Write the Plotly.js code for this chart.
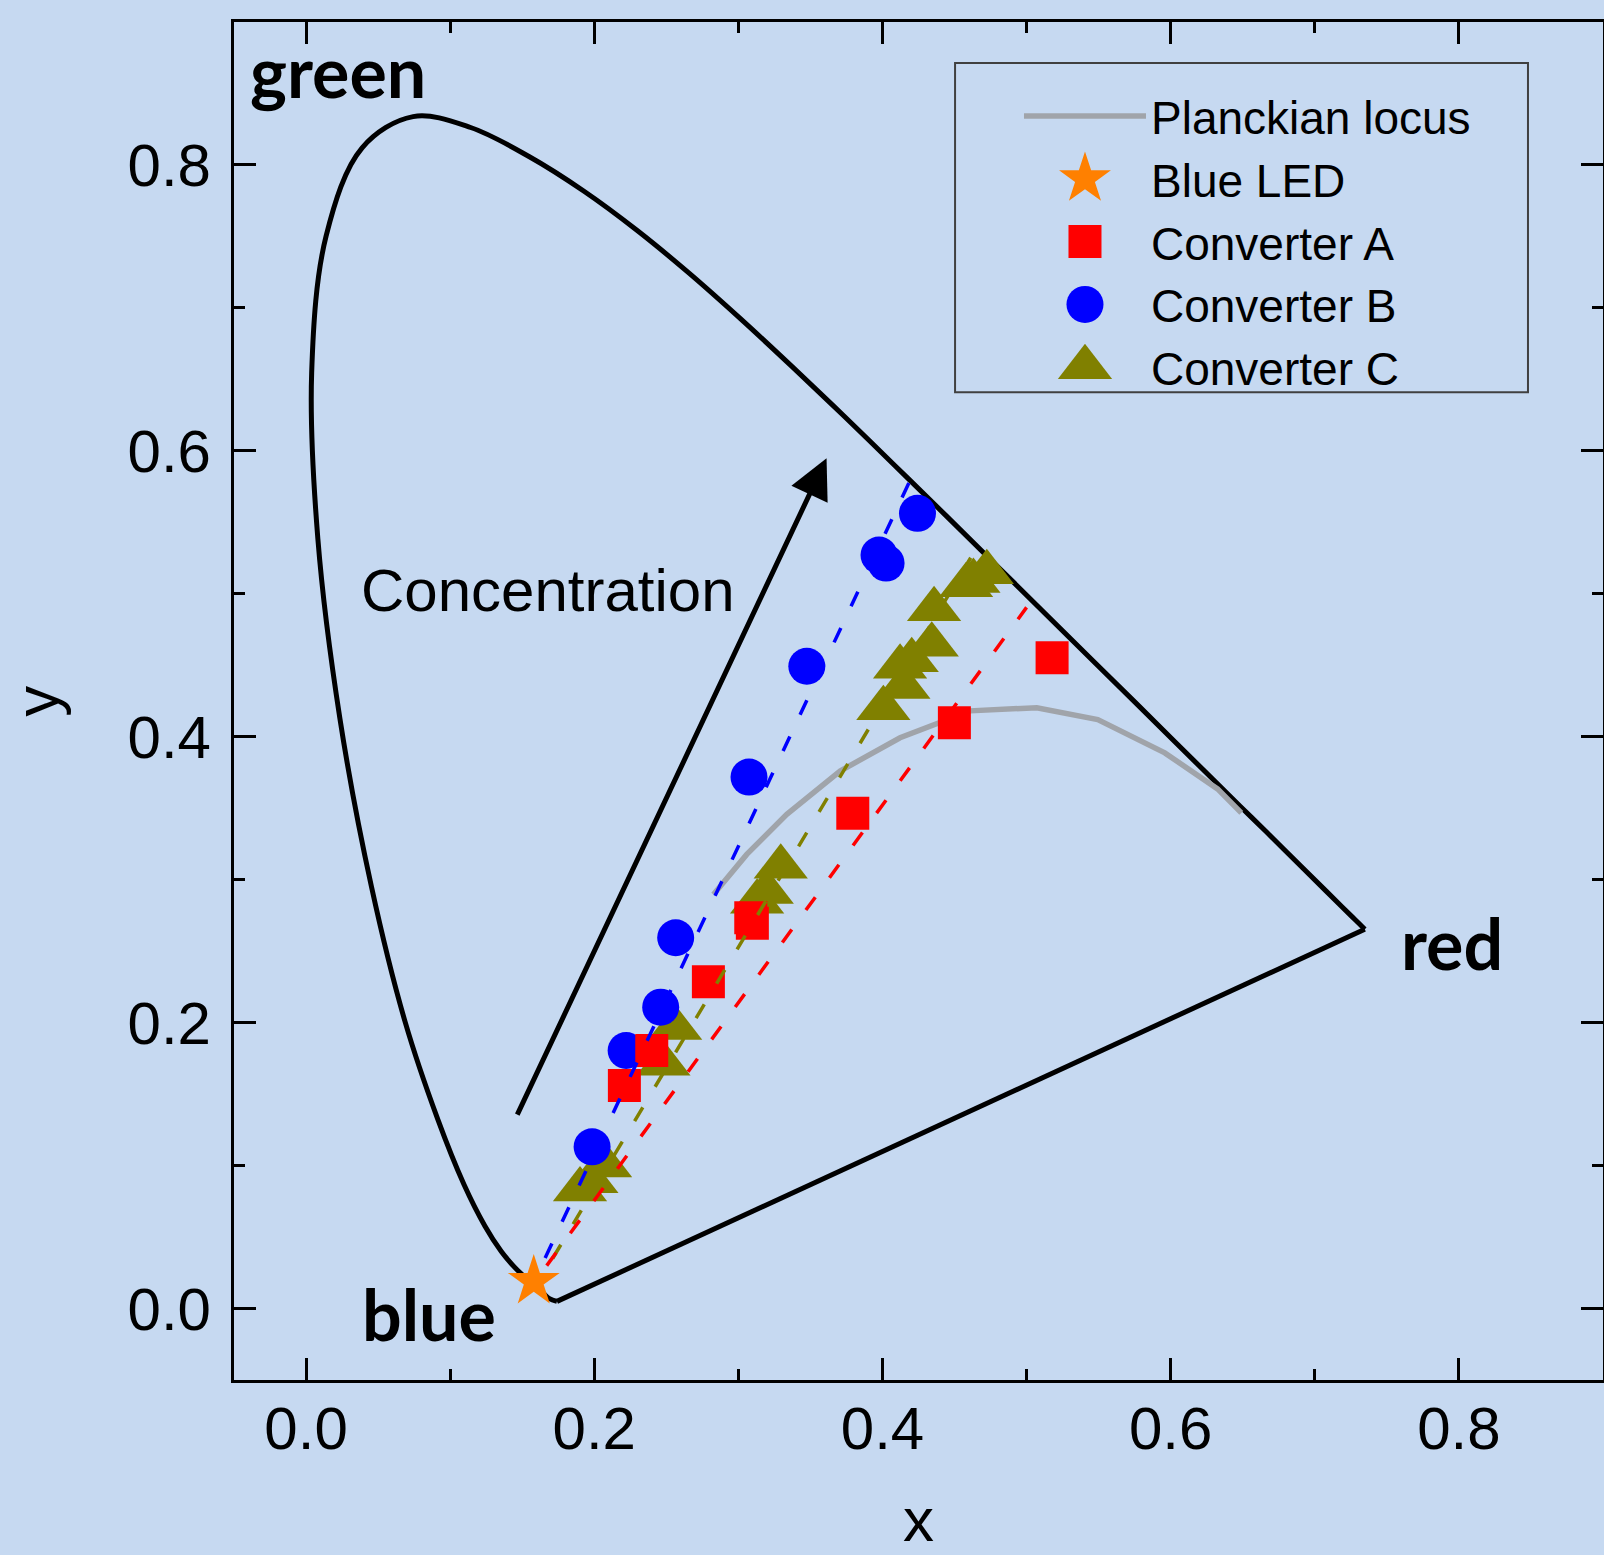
<!DOCTYPE html>
<html>
<head>
<meta charset="utf-8">
<script src="https://cdn.plot.ly/plotly-3.0.1.min.js"></script>
<style>
html, body { margin: 0; padding: 0; background: #C6D9F1; }
#chart { width: 1604px; height: 1555px; }
</style>
</head>
<body>
<div id="chart"></div>
<script>
// ---------- data ----------
// spectral locus (horseshoe), blue end -> green -> red end
const locusX = [0.1741, 0.1689, 0.1644, 0.1566, 0.1510, 0.1440, 0.1355, 0.1241, 0.1096, 0.0913, 0.0687, 0.0454, 0.0235, 0.0082, 0.0039, 0.0139, 0.0389, 0.0743, 0.1142, 0.1547, 0.1929, 0.2296, 0.2658, 0.3016, 0.3373, 0.3731, 0.4087, 0.4441, 0.4788, 0.5125, 0.5448, 0.5752, 0.6029, 0.6270, 0.6482, 0.6658, 0.6915, 0.7079, 0.7190, 0.7260, 0.7300, 0.7347];
const locusY = [0.0050, 0.0069, 0.0109, 0.0177, 0.0227, 0.0297, 0.0399, 0.0578, 0.0868, 0.1327, 0.2007, 0.2950, 0.4127, 0.5384, 0.6548, 0.7502, 0.8120, 0.8338, 0.8262, 0.8059, 0.7816, 0.7543, 0.7243, 0.6923, 0.6589, 0.6245, 0.5896, 0.5547, 0.5202, 0.4866, 0.4544, 0.4242, 0.3965, 0.3725, 0.3514, 0.3340, 0.3083, 0.2920, 0.2809, 0.2740, 0.2700, 0.2653];

// Planckian locus
const planckX = [0.2827, 0.3058, 0.3336, 0.3706, 0.4122, 0.4608, 0.5071, 0.5494, 0.5959, 0.6325, 0.6490];
const planckY = [0.2897, 0.3177, 0.3457, 0.3760, 0.3993, 0.4181, 0.4203, 0.4120, 0.3887, 0.3635, 0.3467];

// Blue LED
const ledX = [0.158];
const ledY = [0.019];

// Converter A (red squares)
const convAX = [0.2209, 0.2399, 0.2792, 0.3086, 0.3097, 0.3794, 0.4499, 0.5177];
const convAY = [0.1560, 0.1805, 0.2286, 0.2733, 0.2696, 0.3464, 0.4098, 0.4553];

// Converter B (blue circles)
const convBX = [0.1985, 0.2221, 0.2461, 0.2565, 0.3074, 0.3475, 0.3976, 0.4025, 0.4243];
const convBY = [0.1131, 0.1805, 0.2108, 0.2594, 0.3718, 0.4493, 0.5271, 0.5215, 0.5563];

// Converter C (olive triangles)
const convCX = [0.1901, 0.1980, 0.2075, 0.2480, 0.2561, 0.3130, 0.3197, 0.3294, 0.4006, 0.4145, 0.4122, 0.4203, 0.4342, 0.4358, 0.4580, 0.4631, 0.4724];
const convCY = [0.0833, 0.0890, 0.1000, 0.1712, 0.1962, 0.2845, 0.2913, 0.3090, 0.4199, 0.4348, 0.4490, 0.4535, 0.4644, 0.4892, 0.5060, 0.5090, 0.5150];

// dashed guide lines
const lineAX = [0.1670, 0.5000];
const lineAY = [0.0300, 0.4905];
const lineBX = [0.1659, 0.4194];
const lineBY = [0.0354, 0.5798];
const lineCX = [0.1711, 0.4620];
const lineCY = [0.0350, 0.5265];

// concentration arrow (tail -> head)
const arrowX = [0.1461, 0.3612];
const arrowY = [0.1346, 0.5949];

const tickVals = [0, 0.2, 0.4, 0.6, 0.8];
const tickText = ['0.0', '0.2', '0.4', '0.6', '0.8'];
const xTitle = 'x';
const yTitle = 'y';

// ---------- styles ----------
const BG = '#C6D9F1';
const FONT = 'Liberation Sans, Arial, sans-serif';
const BOLDFONT = 'Lato, Open Sans, sans-serif';
const SIZE_STAR = 39, SIZE_SQ = 33, SIZE_CIRC = 37, SIZE_TRI = 47;
const DASH = '16px,24px';

const traces = [
  { x: locusX, y: locusY, type: 'scatter', mode: 'lines', showlegend: false,
    line: { color: '#000000', width: 5, shape: 'spline', smoothing: 1, simplify: false }, hoverinfo: 'skip' },
  { x: [locusX[locusX.length - 1], locusX[0]], y: [locusY[locusY.length - 1], locusY[0]],
    type: 'scatter', mode: 'lines', showlegend: false,
    line: { color: '#000000', width: 5 }, hoverinfo: 'skip' },
  { x: planckX, y: planckY, type: 'scatter', mode: 'lines', name: 'Planckian locus', legendrank: 1,
    line: { color: 'rgb(160,164,170)', width: 5.5 } },
  { x: convCX, y: convCY, type: 'scatter', mode: 'markers', name: 'Converter C', legendrank: 5,
    marker: { symbol: 'triangle-up', size: SIZE_TRI, color: '#808000', line: { width: 0 } } },
  { x: convBX, y: convBY, type: 'scatter', mode: 'markers', name: 'Converter B', legendrank: 4,
    marker: { symbol: 'circle', size: SIZE_CIRC, color: '#0000FF', line: { width: 0 } } },
  { x: convAX, y: convAY, type: 'scatter', mode: 'markers', name: 'Converter A', legendrank: 3,
    marker: { symbol: 'square', size: SIZE_SQ, color: '#FF0000', line: { width: 0 } } },
  { x: lineBX, y: lineBY, type: 'scatter', mode: 'lines', showlegend: false,
    line: { color: '#0000FF', width: 3.5, dash: DASH } },
  { x: lineCX, y: lineCY, type: 'scatter', mode: 'lines', showlegend: false,
    line: { color: '#808000', width: 3.5, dash: DASH } },
  { x: lineAX, y: lineAY, type: 'scatter', mode: 'lines', showlegend: false,
    line: { color: '#FF0000', width: 3.5, dash: DASH } },
  { x: ledX, y: ledY, type: 'scatter', mode: 'markers', name: 'Blue LED', legendrank: 2,
    marker: { symbol: 'star', size: SIZE_STAR, color: '#FF8000', line: { width: 0 } } }
];

const axisCommon = {
  range: [-0.05, 0.9],
  tickvals: tickVals, ticktext: tickText,
  ticks: 'inside', ticklen: 22, tickwidth: 3, tickcolor: '#000000',
  minor: { dtick: 0.1, tick0: 0, ticks: 'inside', ticklen: 11, tickwidth: 3, tickcolor: '#000000' },
  showline: true, linewidth: 3, linecolor: '#000000', mirror: 'ticks',
  showgrid: false, zeroline: false,
  tickfont: { family: FONT, size: 60, color: '#000000' },
  fixedrange: true
};

const layout = {
  width: 1604, height: 1555,
  margin: { l: 234, r: 1, t: 22, b: 175 },
  paper_bgcolor: BG, plot_bgcolor: BG,
  font: { family: FONT, color: '#000000' },
  showlegend: true,
  legend: {
    x: 0.5734, y: 0.9576, xanchor: 'left', yanchor: 'top',
    bgcolor: 'rgba(0,0,0,0)', borderwidth: 0,
    itemwidth: 122,
    font: { family: FONT, size: 46, color: '#000000' }
  },
  xaxis: Object.assign({}, axisCommon, { ticklabelstandoff: -6 }),
  yaxis: Object.assign({}, axisCommon, { ticklabelstandoff: 8 }),
  shapes: [
    { type: 'rect', xref: 'paper', yref: 'paper', x0: 0.5267, x1: 0.9452, y0: 0.7273, y1: 0.9698,
      line: { color: '#404040', width: 2 }, fillcolor: 'rgba(0,0,0,0)', layer: 'above' }
  ],
  annotations: [
    // axis titles
    { x: 0.5, y: -0.1028, xref: 'paper', yref: 'paper', text: xTitle, showarrow: false,
      xanchor: 'center', yanchor: 'middle', font: { family: FONT, size: 62, color: '#000000' } },
    { x: -0.1449, y: 0.5, xref: 'paper', yref: 'paper', text: yTitle, showarrow: false, textangle: -90,
      xanchor: 'center', yanchor: 'middle', font: { family: FONT, size: 62, color: '#000000' } },
    // concentration arrow and label
    { x: arrowX[1], y: arrowY[1], ax: arrowX[0], ay: arrowY[0], xref: 'x', yref: 'y', axref: 'x', ayref: 'y',
      text: '', showarrow: true, arrowhead: 2, arrowsize: 1.6, arrowwidth: 5, arrowcolor: '#000000', standoff: 0 },
    { x: 0.1679, y: 0.502, xref: 'x', yref: 'y', text: 'Concentration', showarrow: false,
      xanchor: 'center', yanchor: 'middle', font: { family: FONT, size: 60, color: '#000000' } },
    // corner labels
    { x: -0.0405, y: 0.8654, xref: 'x', yref: 'y', text: 'green', showarrow: false,
      xanchor: 'left', yanchor: 'middle', font: { family: BOLDFONT, size: 70, color: '#000000', weight: 700 } },
    { x: 0.0375, y: -0.0035, xref: 'x', yref: 'y', text: 'blue', showarrow: false,
      xanchor: 'left', yanchor: 'middle', font: { family: BOLDFONT, size: 70, color: '#000000', weight: 700 } },
    { x: 0.7585, y: 0.2558, xref: 'x', yref: 'y', text: 'red', showarrow: false,
      xanchor: 'left', yanchor: 'middle', font: { family: BOLDFONT, size: 70, color: '#000000', weight: 700 } }
  ],
  hovermode: false
};

// legend keys in the reference are drawn at the same size as the plot markers;
// Plotly caps legend marker size at 16 px, so scale the legend symbols up.
const legendKeySize = { 'Blue LED': SIZE_STAR, 'Converter A': SIZE_SQ, 'Converter B': SIZE_CIRC, 'Converter C': SIZE_TRI };
function enlargeLegendKeys(gd) {
  gd.querySelectorAll('.legend .traces').forEach(function (g) {
    const t = g.querySelector('.legendtext');
    if (!t) return;
    const s = legendKeySize[t.textContent];
    if (!s) return;
    g.querySelectorAll('.legendpoints path.scatterpts').forEach(function (p) {
      let base = p.getAttribute('data-base-transform');
      if (base === null) { base = p.getAttribute('transform') || ''; p.setAttribute('data-base-transform', base); }
      p.setAttribute('transform', base + ' scale(' + (s / 16) + ')');
    });
  });
}

const gd = document.getElementById('chart');
Plotly.newPlot(gd, traces, layout, { displayModeBar: false, staticPlot: true }).then(function () {
  enlargeLegendKeys(gd);
  gd.on('plotly_afterplot', function () { enlargeLegendKeys(gd); });
});
</script>
</body>
</html>
